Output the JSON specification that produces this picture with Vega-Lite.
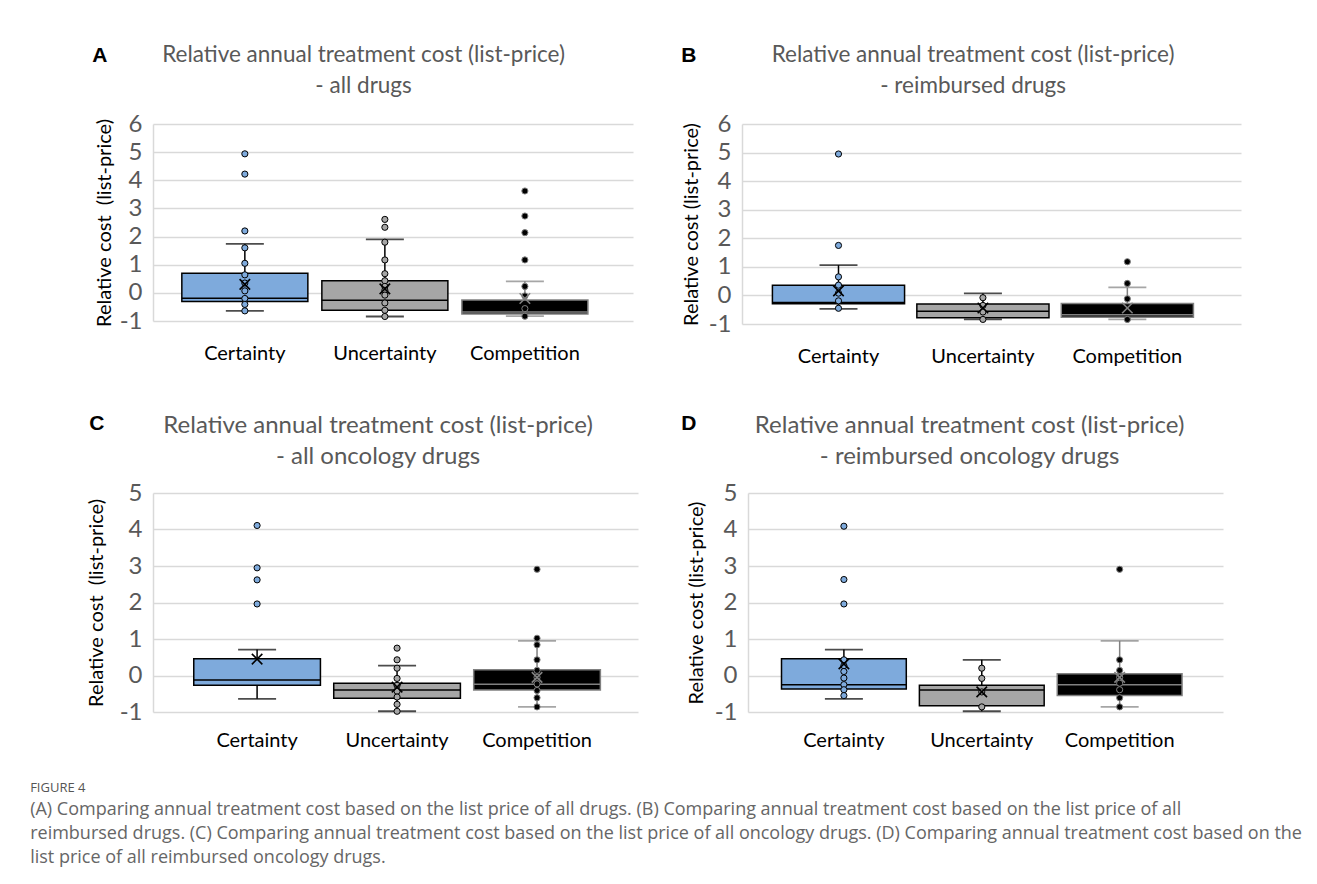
{
  "$schema": "https://vega.github.io/schema/vega-lite/v6.json",
  "padding": {"left": 30, "top": 43, "right": 10, "bottom": 5},
  "background": "white",
  "config": {
    "font": "Lato",
    "view": {"stroke": null},
    "title": {"font": "Lato", "fontWeight": "normal", "color": "#595959", "fontSize": 22.5, "lineHeight": 31, "offset": 15},
    "axisY": {"labelExpr": "'' + datum.value", "labelFontSize": 24, "labelColor": "#595959", "labelPadding": 11, "ticks": false, "grid": true, "gridColor": "#d9d9d9", "gridWidth": 1.5, "domainColor": "#d9d9d9", "domainWidth": 1.5, "titleFontSize": 20, "titleFontWeight": "normal", "titleColor": "#000000"},
    "axisX": {"title": null, "labelAngle": 0, "labelFontSize": 20, "labelColor": "#000000", "ticks": false, "domain": false, "grid": false}
  },
  "datasets": {
    "statsA": [
      {"group": "Certainty", "lo": -0.64, "q1": -0.31, "med": -0.19, "q3": 0.70, "hi": 1.74, "mean": 0.30},
      {"group": "Uncertainty", "lo": -0.84, "q1": -0.62, "med": -0.26, "q3": 0.43, "hi": 1.90, "mean": 0.14},
      {"group": "Competition", "lo": -0.83, "q1": -0.75, "med": -0.68, "q3": -0.25, "hi": 0.41, "mean": -0.20}
    ],
    "statsB": [
      {"group": "Certainty", "lo": -0.47, "q1": -0.29, "med": -0.25, "q3": 0.36, "hi": 1.06, "mean": 0.16},
      {"group": "Uncertainty", "lo": -0.84, "q1": -0.78, "med": -0.55, "q3": -0.30, "hi": 0.07, "mean": -0.44},
      {"group": "Competition", "lo": -0.84, "q1": -0.76, "med": -0.68, "q3": -0.28, "hi": 0.28, "mean": -0.44}
    ],
    "statsC": [
      {"group": "Certainty", "lo": -0.64, "q1": -0.27, "med": -0.12, "q3": 0.46, "hi": 0.71, "mean": 0.45},
      {"group": "Uncertainty", "lo": -0.98, "q1": -0.62, "med": -0.40, "q3": -0.21, "hi": 0.27, "mean": -0.32},
      {"group": "Competition", "lo": -0.86, "q1": -0.40, "med": -0.24, "q3": 0.16, "hi": 0.95, "mean": -0.05}
    ],
    "statsD": [
      {"group": "Certainty", "lo": -0.64, "q1": -0.37, "med": -0.25, "q3": 0.46, "hi": 0.71, "mean": 0.32},
      {"group": "Uncertainty", "lo": -0.98, "q1": -0.83, "med": -0.40, "q3": -0.27, "hi": 0.43, "mean": -0.45},
      {"group": "Competition", "lo": -0.86, "q1": -0.55, "med": -0.25, "q3": 0.05, "hi": 0.95, "mean": -0.05}
    ],
    "ptsA": [
      {"group": "Certainty", "v": 4.94}, {"group": "Certainty", "v": 4.22}, {"group": "Certainty", "v": 2.2}, {"group": "Certainty", "v": 1.6}, {"group": "Certainty", "v": 1.05}, {"group": "Certainty", "v": 0.64}, {"group": "Certainty", "v": 0.35}, {"group": "Certainty", "v": 0.07}, {"group": "Certainty", "v": -0.2}, {"group": "Certainty", "v": -0.41}, {"group": "Certainty", "v": -0.64},
      {"group": "Uncertainty", "v": 2.61}, {"group": "Uncertainty", "v": 2.33}, {"group": "Uncertainty", "v": 1.8}, {"group": "Uncertainty", "v": 1.17}, {"group": "Uncertainty", "v": 0.68}, {"group": "Uncertainty", "v": 0.43}, {"group": "Uncertainty", "v": 0.23}, {"group": "Uncertainty", "v": 0.09}, {"group": "Uncertainty", "v": -0.08}, {"group": "Uncertainty", "v": -0.36}, {"group": "Uncertainty", "v": -0.62}, {"group": "Uncertainty", "v": -0.84},
      {"group": "Competition", "v": 3.62}, {"group": "Competition", "v": 2.73}, {"group": "Competition", "v": 2.14}, {"group": "Competition", "v": 1.17}, {"group": "Competition", "v": 0.23}, {"group": "Competition", "v": -0.11}, {"group": "Competition", "v": -0.56}, {"group": "Competition", "v": -0.83}
    ],
    "ptsB": [
      {"group": "Certainty", "v": 4.95}, {"group": "Certainty", "v": 1.75}, {"group": "Certainty", "v": 0.65}, {"group": "Certainty", "v": 0.36}, {"group": "Certainty", "v": 0.08}, {"group": "Certainty", "v": -0.19}, {"group": "Certainty", "v": -0.45},
      {"group": "Uncertainty", "v": -0.08}, {"group": "Uncertainty", "v": -0.35}, {"group": "Uncertainty", "v": -0.58}, {"group": "Uncertainty", "v": -0.84},
      {"group": "Competition", "v": 1.18}, {"group": "Competition", "v": 0.42}, {"group": "Competition", "v": -0.12}, {"group": "Competition", "v": -0.84}
    ],
    "ptsC": [
      {"group": "Certainty", "v": 4.11}, {"group": "Certainty", "v": 2.95}, {"group": "Certainty", "v": 2.62}, {"group": "Certainty", "v": 1.96},
      {"group": "Uncertainty", "v": 0.75}, {"group": "Uncertainty", "v": 0.43}, {"group": "Uncertainty", "v": 0.2}, {"group": "Uncertainty", "v": -0.08}, {"group": "Uncertainty", "v": -0.27}, {"group": "Uncertainty", "v": -0.43}, {"group": "Uncertainty", "v": -0.59}, {"group": "Uncertainty", "v": -0.79}, {"group": "Uncertainty", "v": -0.98},
      {"group": "Competition", "v": 2.91}, {"group": "Competition", "v": 1.02}, {"group": "Competition", "v": 0.84}, {"group": "Competition", "v": 0.43}, {"group": "Competition", "v": 0.14}, {"group": "Competition", "v": -0.05}, {"group": "Competition", "v": -0.23}, {"group": "Competition", "v": -0.41}, {"group": "Competition", "v": -0.61}, {"group": "Competition", "v": -0.86}
    ],
    "ptsD": [
      {"group": "Certainty", "v": 4.09}, {"group": "Certainty", "v": 2.63}, {"group": "Certainty", "v": 1.96}, {"group": "Certainty", "v": 0.43}, {"group": "Certainty", "v": 0.27}, {"group": "Certainty", "v": 0.11}, {"group": "Certainty", "v": -0.07}, {"group": "Certainty", "v": -0.25}, {"group": "Certainty", "v": -0.39}, {"group": "Certainty", "v": -0.55},
      {"group": "Uncertainty", "v": 0.2}, {"group": "Uncertainty", "v": -0.08}, {"group": "Uncertainty", "v": -0.45}, {"group": "Uncertainty", "v": -0.86},
      {"group": "Competition", "v": 2.91}, {"group": "Competition", "v": 0.43}, {"group": "Competition", "v": 0.14}, {"group": "Competition", "v": -0.05}, {"group": "Competition", "v": -0.21}, {"group": "Competition", "v": -0.39}, {"group": "Competition", "v": -0.61}, {"group": "Competition", "v": -0.86}
    ]
  },
  "title": {
    "text": "FIGURE 4",
    "subtitle": [
      "(A) Comparing annual treatment cost based on the list price of all drugs. (B) Comparing annual treatment cost based on the list price of all",
      "reimbursed drugs. (C) Comparing annual treatment cost based on the list price of all oncology drugs. (D) Comparing annual treatment cost based on the",
      "list price of all reimbursed oncology drugs."
    ],
    "orient": "bottom",
    "anchor": "start",
    "frame": "bounds",
    "dx": -56,
    "offset": 32,
    "font": "Open Sans",
    "fontSize": 13,
    "color": "#555555",
    "subtitleFont": "Open Sans",
    "subtitleFontSize": 18,
    "subtitleColor": "#666666",
    "subtitleLineHeight": 24,
    "subtitlePadding": 6
  },
  "columns": 1,
  "align": "none",
  "spacing": 47,
  "concat": [
    {
      "spacing": 48,
      "hconcat": [
        {
          "title": {"text": "A", "anchor": "start", "font": "Liberation Sans", "fontWeight": "bold", "fontSize": 21, "color": "#000000", "offset": -22, "dx": -2},
          "vconcat": [
            {
              "title": {"text": ["Relative annual treatment cost (list-price)", "- all drugs"], "frame": "bounds"},
              "width": 480, "height": 197,
              "encoding": {
                "x": {"field": "group", "type": "nominal", "sort": ["Certainty", "Uncertainty", "Competition"], "scale": {"paddingInner": 0.1, "paddingOuter": 0.264, "align": 0.39}, "axis": {"labelPadding": 22}}
              },
              "layer": [
                {"data": {"name": "statsA"}, "mark": {"type": "rule", "strokeWidth": 1.5},
                  "encoding": {
                    "y": {"field": "lo", "type": "quantitative", "scale": {"domain": [-1, 6], "nice": false, "zero": false},
                      "axis": {"title": "Relative cost \u00a0(list-price)", "values": [-1, 0, 1, 2, 3, 4, 5, 6], "titlePadding": 5}},
                    "y2": {"field": "hi"},
                    "stroke": {"field": "group", "type": "nominal", "scale": {"domain": ["Certainty", "Uncertainty", "Competition"], "range": ["#000000", "#000000", "#808080"]}, "legend": null}
                  }},
                {"data": {"name": "statsA"}, "mark": {"type": "tick", "size": 38, "thickness": 1.8},
                  "encoding": {"y": {"field": "hi", "type": "quantitative", "axis": {"title": "Relative cost \u00a0(list-price)", "values": [-1, 0, 1, 2, 3, 4, 5, 6], "titlePadding": 5}},
                    "color": {"field": "group", "type": "nominal", "scale": {"domain": ["Certainty", "Uncertainty", "Competition"], "range": ["#000000", "#000000", "#808080"]}, "legend": null}}},
                {"data": {"name": "statsA"}, "mark": {"type": "tick", "size": 38, "thickness": 1.8},
                  "encoding": {"y": {"field": "lo", "type": "quantitative", "axis": {"title": "Relative cost \u00a0(list-price)", "values": [-1, 0, 1, 2, 3, 4, 5, 6], "titlePadding": 5}},
                    "color": {"field": "group", "type": "nominal", "legend": null}}},
                {"data": {"name": "statsA"}, "mark": {"type": "bar", "strokeWidth": 1.5},
                  "encoding": {"y": {"field": "q3", "type": "quantitative", "axis": {"title": "Relative cost \u00a0(list-price)", "values": [-1, 0, 1, 2, 3, 4, 5, 6], "titlePadding": 5}}, "y2": {"field": "q1"},
                    "fill": {"field": "group", "type": "nominal", "scale": {"domain": ["Certainty", "Uncertainty", "Competition"], "range": ["#7eaadc", "#a6a6a6", "#000000"]}, "legend": null},
                    "stroke": {"field": "group", "type": "nominal", "legend": null}}},
                {"data": {"name": "statsA"}, "mark": {"type": "bar", "strokeWidth": 1.5, "fillOpacity": 0},
                  "encoding": {"y": {"field": "med", "type": "quantitative", "axis": {"title": "Relative cost \u00a0(list-price)", "values": [-1, 0, 1, 2, 3, 4, 5, 6], "titlePadding": 5}}, "y2": {"field": "med"},
                    "stroke": {"field": "group", "type": "nominal", "legend": null}}},
                {"data": {"name": "ptsA"}, "mark": {"type": "circle", "size": 38, "strokeWidth": 1, "opacity": 1},
                  "encoding": {"y": {"field": "v", "type": "quantitative", "axis": {"title": "Relative cost \u00a0(list-price)", "values": [-1, 0, 1, 2, 3, 4, 5, 6], "titlePadding": 5}},
                    "fill": {"field": "group", "type": "nominal", "legend": null},
                    "stroke": {"field": "group", "type": "nominal", "legend": null}}},
                {"data": {"name": "statsA"}, "mark": {"type": "point", "shape": "M-1,-1L1,1M-1,1L1,-1", "size": 110, "strokeWidth": 1.6, "filled": false, "opacity": 1},
                  "encoding": {"y": {"field": "mean", "type": "quantitative", "axis": {"title": "Relative cost \u00a0(list-price)", "values": [-1, 0, 1, 2, 3, 4, 5, 6], "titlePadding": 5}},
                    "stroke": {"field": "group", "type": "nominal", "legend": null}}}
              ]
            }
          ]
        },
        {
          "title": {"text": "B", "anchor": "start", "font": "Liberation Sans", "fontWeight": "bold", "fontSize": 21, "color": "#000000", "offset": -22, "dx": 0},
          "vconcat": [
            {
              "title": {"text": ["Relative annual treatment cost (list-price)", "- reimbursed drugs"], "frame": "bounds", "dx": 12},
              "width": 499, "height": 200,
              "encoding": {
                "x": {"field": "group", "type": "nominal", "sort": ["Certainty", "Uncertainty", "Competition"], "scale": {"paddingInner": 0.085, "paddingOuter": 0.27, "align": 0.39}, "axis": {"labelPadding": 22}}
              },
              "layer": [
                {"data": {"name": "statsB"}, "mark": {"type": "rule", "strokeWidth": 1.5},
                  "encoding": {
                    "y": {"field": "lo", "type": "quantitative", "scale": {"domain": [-1, 6], "nice": false, "zero": false},
                      "axis": {"title": "Relative cost (list-price)", "values": [-1, 0, 1, 2, 3, 4, 5, 6], "titlePadding": 7}},
                    "y2": {"field": "hi"},
                    "stroke": {"field": "group", "type": "nominal", "scale": {"domain": ["Certainty", "Uncertainty", "Competition"], "range": ["#000000", "#000000", "#808080"]}, "legend": null}
                  }},
                {"data": {"name": "statsB"}, "mark": {"type": "tick", "size": 38, "thickness": 1.8},
                  "encoding": {"y": {"field": "hi", "type": "quantitative", "axis": {"title": "Relative cost (list-price)", "values": [-1, 0, 1, 2, 3, 4, 5, 6], "titlePadding": 7}},
                    "color": {"field": "group", "type": "nominal", "scale": {"domain": ["Certainty", "Uncertainty", "Competition"], "range": ["#000000", "#000000", "#808080"]}, "legend": null}}},
                {"data": {"name": "statsB"}, "mark": {"type": "tick", "size": 38, "thickness": 1.8},
                  "encoding": {"y": {"field": "lo", "type": "quantitative", "axis": {"title": "Relative cost (list-price)", "values": [-1, 0, 1, 2, 3, 4, 5, 6], "titlePadding": 7}},
                    "color": {"field": "group", "type": "nominal", "legend": null}}},
                {"data": {"name": "statsB"}, "mark": {"type": "bar", "strokeWidth": 1.5},
                  "encoding": {"y": {"field": "q3", "type": "quantitative", "axis": {"title": "Relative cost (list-price)", "values": [-1, 0, 1, 2, 3, 4, 5, 6], "titlePadding": 7}}, "y2": {"field": "q1"},
                    "fill": {"field": "group", "type": "nominal", "scale": {"domain": ["Certainty", "Uncertainty", "Competition"], "range": ["#7eaadc", "#a6a6a6", "#000000"]}, "legend": null},
                    "stroke": {"field": "group", "type": "nominal", "legend": null}}},
                {"data": {"name": "statsB"}, "mark": {"type": "bar", "strokeWidth": 1.5, "fillOpacity": 0},
                  "encoding": {"y": {"field": "med", "type": "quantitative", "axis": {"title": "Relative cost (list-price)", "values": [-1, 0, 1, 2, 3, 4, 5, 6], "titlePadding": 7}}, "y2": {"field": "med"},
                    "stroke": {"field": "group", "type": "nominal", "legend": null}}},
                {"data": {"name": "ptsB"}, "mark": {"type": "circle", "size": 38, "strokeWidth": 1, "opacity": 1},
                  "encoding": {"y": {"field": "v", "type": "quantitative", "axis": {"title": "Relative cost (list-price)", "values": [-1, 0, 1, 2, 3, 4, 5, 6], "titlePadding": 7}},
                    "fill": {"field": "group", "type": "nominal", "legend": null},
                    "stroke": {"field": "group", "type": "nominal", "legend": null}}},
                {"data": {"name": "statsB"}, "mark": {"type": "point", "shape": "M-1,-1L1,1M-1,1L1,-1", "size": 110, "strokeWidth": 1.6, "filled": false, "opacity": 1},
                  "encoding": {"y": {"field": "mean", "type": "quantitative", "axis": {"title": "Relative cost (list-price)", "values": [-1, 0, 1, 2, 3, 4, 5, 6], "titlePadding": 7}},
                    "stroke": {"field": "group", "type": "nominal", "legend": null}}}
              ]
            }
          ]
        }
      ]
    },
    {
      "spacing": 43,
      "hconcat": [
        {
          "title": {"text": "C", "anchor": "start", "font": "Liberation Sans", "fontWeight": "bold", "fontSize": 21, "color": "#000000", "offset": -20, "dx": 3},
          "vconcat": [
            {
              "title": {"text": ["Relative annual treatment cost (list-price)", "- all oncology drugs"], "fontSize": 24, "offset": 12, "frame": "bounds", "dx": 16},
              "width": 485, "height": 219,
              "encoding": {
                "x": {"field": "group", "type": "nominal", "sort": ["Certainty", "Uncertainty", "Competition"], "scale": {"paddingInner": 0.095, "paddingOuter": 0.28, "align": 0.52}, "axis": {"labelPadding": 18}}
              },
              "layer": [
                {"data": {"name": "statsC"}, "mark": {"type": "rule", "strokeWidth": 1.5},
                  "encoding": {
                    "y": {"field": "lo", "type": "quantitative", "scale": {"domain": [-1, 5], "nice": false, "zero": false},
                      "axis": {"title": "Relative cost \u00a0(list-price)", "values": [-1, 0, 1, 2, 3, 4, 5], "titlePadding": 13}},
                    "y2": {"field": "hi"},
                    "stroke": {"field": "group", "type": "nominal", "scale": {"domain": ["Certainty", "Uncertainty", "Competition"], "range": ["#000000", "#000000", "#808080"]}, "legend": null}
                  }},
                {"data": {"name": "statsC"}, "mark": {"type": "tick", "size": 38, "thickness": 1.8},
                  "encoding": {"y": {"field": "hi", "type": "quantitative", "axis": {"title": "Relative cost \u00a0(list-price)", "values": [-1, 0, 1, 2, 3, 4, 5], "titlePadding": 13}},
                    "color": {"field": "group", "type": "nominal", "scale": {"domain": ["Certainty", "Uncertainty", "Competition"], "range": ["#000000", "#000000", "#808080"]}, "legend": null}}},
                {"data": {"name": "statsC"}, "mark": {"type": "tick", "size": 38, "thickness": 1.8},
                  "encoding": {"y": {"field": "lo", "type": "quantitative", "axis": {"title": "Relative cost \u00a0(list-price)", "values": [-1, 0, 1, 2, 3, 4, 5], "titlePadding": 13}},
                    "color": {"field": "group", "type": "nominal", "legend": null}}},
                {"data": {"name": "statsC"}, "mark": {"type": "bar", "strokeWidth": 1.5},
                  "encoding": {"y": {"field": "q3", "type": "quantitative", "axis": {"title": "Relative cost \u00a0(list-price)", "values": [-1, 0, 1, 2, 3, 4, 5], "titlePadding": 13}}, "y2": {"field": "q1"},
                    "fill": {"field": "group", "type": "nominal", "scale": {"domain": ["Certainty", "Uncertainty", "Competition"], "range": ["#7eaadc", "#a6a6a6", "#000000"]}, "legend": null},
                    "stroke": {"field": "group", "type": "nominal", "legend": null}}},
                {"data": {"name": "statsC"}, "mark": {"type": "bar", "strokeWidth": 1.5, "fillOpacity": 0},
                  "encoding": {"y": {"field": "med", "type": "quantitative", "axis": {"title": "Relative cost \u00a0(list-price)", "values": [-1, 0, 1, 2, 3, 4, 5], "titlePadding": 13}}, "y2": {"field": "med"},
                    "stroke": {"field": "group", "type": "nominal", "legend": null}}},
                {"data": {"name": "ptsC"}, "mark": {"type": "circle", "size": 38, "strokeWidth": 1, "opacity": 1},
                  "encoding": {"y": {"field": "v", "type": "quantitative", "axis": {"title": "Relative cost \u00a0(list-price)", "values": [-1, 0, 1, 2, 3, 4, 5], "titlePadding": 13}},
                    "fill": {"field": "group", "type": "nominal", "legend": null},
                    "stroke": {"field": "group", "type": "nominal", "legend": null}}},
                {"data": {"name": "statsC"}, "mark": {"type": "point", "shape": "M-1,-1L1,1M-1,1L1,-1", "size": 110, "strokeWidth": 1.6, "filled": false, "opacity": 1},
                  "encoding": {"y": {"field": "mean", "type": "quantitative", "axis": {"title": "Relative cost \u00a0(list-price)", "values": [-1, 0, 1, 2, 3, 4, 5], "titlePadding": 13}},
                    "stroke": {"field": "group", "type": "nominal", "legend": null}}}
              ]
            }
          ]
        },
        {
          "title": {"text": "D", "anchor": "start", "font": "Liberation Sans", "fontWeight": "bold", "fontSize": 21, "color": "#000000", "offset": -20, "dx": -5},
          "vconcat": [
            {
              "title": {"text": ["Relative annual treatment cost (list-price)", "- reimbursed oncology drugs"], "fontSize": 24, "offset": 12, "frame": "bounds", "dx": 15},
              "width": 475, "height": 219,
              "encoding": {
                "x": {"field": "group", "type": "nominal", "sort": ["Certainty", "Uncertainty", "Competition"], "scale": {"paddingInner": 0.095, "paddingOuter": 0.27, "align": 0.45}, "axis": {"labelPadding": 18}}
              },
              "layer": [
                {"data": {"name": "statsD"}, "mark": {"type": "rule", "strokeWidth": 1.5},
                  "encoding": {
                    "y": {"field": "lo", "type": "quantitative", "scale": {"domain": [-1, 5], "nice": false, "zero": false},
                      "axis": {"title": "Relative cost (list-price)", "values": [-1, 0, 1, 2, 3, 4, 5], "titlePadding": 8}},
                    "y2": {"field": "hi"},
                    "stroke": {"field": "group", "type": "nominal", "scale": {"domain": ["Certainty", "Uncertainty", "Competition"], "range": ["#000000", "#000000", "#808080"]}, "legend": null}
                  }},
                {"data": {"name": "statsD"}, "mark": {"type": "tick", "size": 38, "thickness": 1.8},
                  "encoding": {"y": {"field": "hi", "type": "quantitative", "axis": {"title": "Relative cost (list-price)", "values": [-1, 0, 1, 2, 3, 4, 5], "titlePadding": 8}},
                    "color": {"field": "group", "type": "nominal", "scale": {"domain": ["Certainty", "Uncertainty", "Competition"], "range": ["#000000", "#000000", "#808080"]}, "legend": null}}},
                {"data": {"name": "statsD"}, "mark": {"type": "tick", "size": 38, "thickness": 1.8},
                  "encoding": {"y": {"field": "lo", "type": "quantitative", "axis": {"title": "Relative cost (list-price)", "values": [-1, 0, 1, 2, 3, 4, 5], "titlePadding": 8}},
                    "color": {"field": "group", "type": "nominal", "legend": null}}},
                {"data": {"name": "statsD"}, "mark": {"type": "bar", "strokeWidth": 1.5},
                  "encoding": {"y": {"field": "q3", "type": "quantitative", "axis": {"title": "Relative cost (list-price)", "values": [-1, 0, 1, 2, 3, 4, 5], "titlePadding": 8}}, "y2": {"field": "q1"},
                    "fill": {"field": "group", "type": "nominal", "scale": {"domain": ["Certainty", "Uncertainty", "Competition"], "range": ["#7eaadc", "#a6a6a6", "#000000"]}, "legend": null},
                    "stroke": {"field": "group", "type": "nominal", "legend": null}}},
                {"data": {"name": "statsD"}, "mark": {"type": "bar", "strokeWidth": 1.5, "fillOpacity": 0},
                  "encoding": {"y": {"field": "med", "type": "quantitative", "axis": {"title": "Relative cost (list-price)", "values": [-1, 0, 1, 2, 3, 4, 5], "titlePadding": 8}}, "y2": {"field": "med"},
                    "stroke": {"field": "group", "type": "nominal", "legend": null}}},
                {"data": {"name": "ptsD"}, "mark": {"type": "circle", "size": 38, "strokeWidth": 1, "opacity": 1},
                  "encoding": {"y": {"field": "v", "type": "quantitative", "axis": {"title": "Relative cost (list-price)", "values": [-1, 0, 1, 2, 3, 4, 5], "titlePadding": 8}},
                    "fill": {"field": "group", "type": "nominal", "legend": null},
                    "stroke": {"field": "group", "type": "nominal", "legend": null}}},
                {"data": {"name": "statsD"}, "mark": {"type": "point", "shape": "M-1,-1L1,1M-1,1L1,-1", "size": 110, "strokeWidth": 1.6, "filled": false, "opacity": 1},
                  "encoding": {"y": {"field": "mean", "type": "quantitative", "axis": {"title": "Relative cost (list-price)", "values": [-1, 0, 1, 2, 3, 4, 5], "titlePadding": 8}},
                    "stroke": {"field": "group", "type": "nominal", "legend": null}}}
              ]
            }
          ]
        }
      ]
    }
  ]
}
